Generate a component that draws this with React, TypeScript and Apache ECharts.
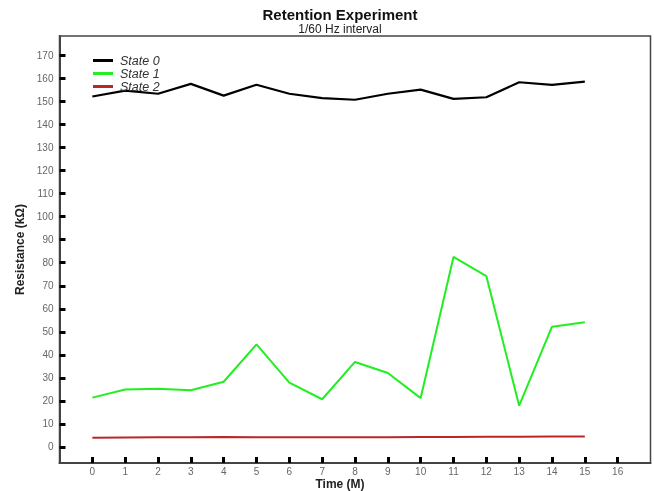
import React, { useEffect, useRef } from "react";
import * as echarts from "echarts";

const times = [0, 1, 2, 3, 4, 5, 6, 7, 8, 9, 10, 11, 12, 13, 14, 15];
const state0 = [152.2, 154.8, 153.4, 157.7, 152.6, 157.3, 153.4, 151.5, 150.8, 153.4, 155.2, 151.2, 151.9, 158.4, 157.3, 158.7];
const state1 = [21.4, 24.9, 25.3, 24.6, 28.3, 44.5, 27.9, 20.7, 36.9, 32.1, 21.2, 82.5, 74.2, 17.9, 52.2, 54.1];
const state2 = [4.0, 4.1, 4.2, 4.2, 4.3, 4.2, 4.2, 4.2, 4.2, 4.2, 4.3, 4.3, 4.4, 4.4, 4.5, 4.5];
const xTicks = [0, 1, 2, 3, 4, 5, 6, 7, 8, 9, 10, 11, 12, 13, 14, 15, 16];
const yTicks = [0, 10, 20, 30, 40, 50, 60, 70, 80, 90, 100, 110, 120, 130, 140, 150, 160, 170];
const seriesNames = ["State 0", "State 1", "State 2"];
const seriesColors = ["#000000", "#22ee22", "#b82828"];
const xAxisTitle = "Time (M)";

export default function App() {
  const ref = useRef<HTMLDivElement>(null);
  useEffect(() => {
    if (!ref.current) return;
    const chart = echarts.init(ref.current, null, { renderer: "svg" });
    const font = "Liberation Sans, Arial, sans-serif";
    const dataSets = [state0, state1, state2];
    chart.setOption({
      animation: false,
      textStyle: { fontFamily: font },
      title: [
        {
          text: "Retention Experiment",
          left: 340,
          textAlign: "center",
          top: 7,
          padding: 0,
          textStyle: { fontSize: 15, fontWeight: "bold", color: "#111", fontFamily: font, lineHeight: 15 },
        },
        {
          text: "1/60 Hz interval",
          left: 340,
          textAlign: "center",
          top: 23,
          padding: 0,
          textStyle: { fontSize: 12, fontWeight: "normal", color: "#222", fontFamily: font, lineHeight: 12 },
        },
      ],
      graphic: [
        {
          type: "text",
          x: 340,
          y: 484,
          style: {
            text: xAxisTitle,
            x: 0,
            y: 0,
            align: "center",
            verticalAlign: "middle",
            fontSize: 12,
            fontWeight: "bold",
            fontFamily: font,
            fill: "#222",
          },
        },
      ],
      legend: {
        orient: "vertical",
        left: 88,
        top: 49,
        itemWidth: 20,
        itemHeight: 3,
        itemGap: 0,
        icon: "rect",
        data: seriesNames,
        textStyle: { fontSize: 12.5, fontStyle: "italic", color: "#333", lineHeight: 12, fontFamily: font, padding: [0, 0, 0, 2] },
      },
      grid: {
        left: 59.5,
        right: 3.5,
        top: 36,
        bottom: 28,
        outerBoundsMode: "none",
        containLabel: false,
        show: true,
        borderColor: "#444",
        borderWidth: 1.5,
        backgroundColor: "transparent",
      },
      xAxis: {
        type: "value",
        min: -1,
        max: 17,
        splitLine: { show: false },
        axisLine: { show: true, onZero: false, lineStyle: { color: "#444", width: 2 } },
        axisTick: { show: true, inside: true, length: 6, lineStyle: { color: "#000", width: 3 }, customValues: xTicks },
        axisLabel: { color: "#666", fontSize: 10, margin: 3, customValues: xTicks },
      },
      yAxis: {
        type: "value",
        min: -7,
        max: 178.5,
        name: "Resistance (kΩ)",
        nameLocation: "middle",
        nameGap: 33,
        nameRotate: 90,
        nameTextStyle: { fontSize: 12, fontWeight: "bold", color: "#222" },
        splitLine: { show: false },
        axisLine: { show: true, onZero: false, lineStyle: { color: "#444", width: 2 } },
        axisTick: { show: true, inside: true, length: 6, lineStyle: { color: "#000", width: 3 }, customValues: yTicks },
        axisLabel: { color: "#666", fontSize: 10, margin: 6, customValues: yTicks },
      },
      series: seriesNames.map((name, k) => ({
        name,
        type: "line",
        data: times.map((t, i) => [t, dataSets[k][i]]),
        showSymbol: false,
        symbol: "none",
        color: seriesColors[k],
        lineStyle: { color: seriesColors[k], width: k === 0 ? 2.2 : 2 },
      })),
    });
    return () => chart.dispose();
  }, []);
  return <div ref={ref} style={{ position: "fixed", left: 0, top: 0, width: 654, height: 491 }} />;
}
